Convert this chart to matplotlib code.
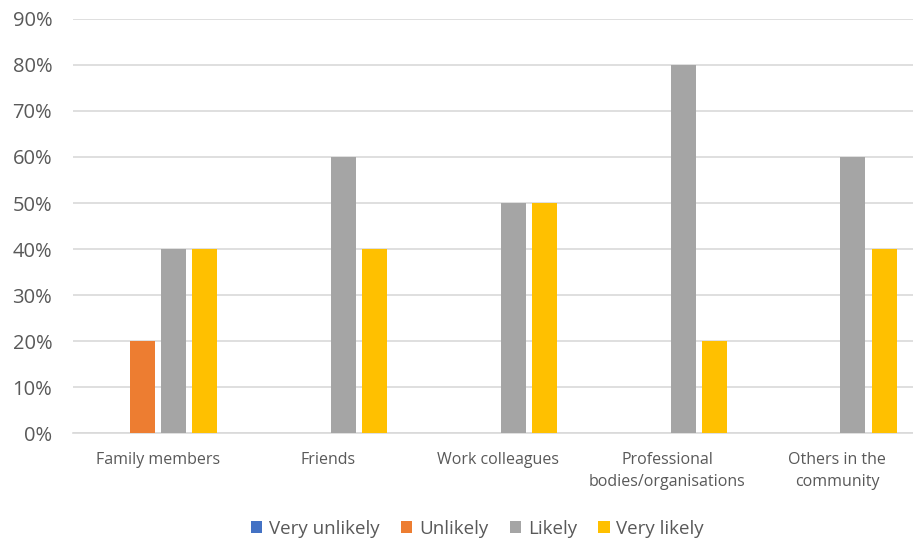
import numpy as np
import matplotlib.pyplot as plt
from matplotlib.ticker import PercentFormatter

plt.rcParams['font.family'] = ['Open Sans', 'DejaVu Sans']

categories = ["Family members", "Friends", "Work colleagues",
              "Professional\nbodies/organisations", "Others in the\ncommunity"]
series = ["Very unlikely", "Unlikely", "Likely", "Very likely"]
very_unlikely = [0.0, 0.0, 0.0, 0.0, 0.0]
unlikely = [0.20, 0.0, 0.0, 0.0, 0.0]
likely = [0.40, 0.60, 0.50, 0.80, 0.60]
very_likely = [0.40, 0.40, 0.50, 0.20, 0.40]
colors = ["#4472C4", "#ED7D31", "#A5A5A5", "#FFC000"]

fig = plt.figure(figsize=(9.13, 5.41), dpi=100)
# plot area runs a little past the right edge of the canvas
ax = fig.add_axes([0.080, 0.1996, 0.930, 0.7653])

x = np.arange(len(categories))
step = 0.184
width = 0.147
for j, (name, vals) in enumerate(zip(series, [very_unlikely, unlikely, likely, very_likely])):
    ax.bar(x + (j - 1.5) * step, vals, width, color=colors[j], label=name, zorder=3)

ax.set_xlim(-0.5, len(categories) - 0.5)
ax.set_ylim(0, 0.9)
ax.set_yticks(np.arange(0, 0.91, 0.1))
ax.yaxis.set_major_formatter(PercentFormatter(1.0, decimals=0))
ax.grid(axis="y", color="#D9D9D9", lw=1.2, zorder=0)
ax.set_xticks(x)
ax.set_xticklabels(categories, fontsize=11.5, color="#595959", linespacing=1.5)
ax.tick_params(axis="y", labelsize=14.5, labelcolor="#595959", length=0, pad=15)
ax.tick_params(axis="x", length=0, pad=14)
for s in ["top", "right", "left"]:
    ax.spines[s].set_visible(False)
ax.spines["bottom"].set_color("#D9D9D9")
ax.spines["bottom"].set_linewidth(1.2)

fig.legend(loc="lower center", bbox_to_anchor=(0.523, -0.025), ncol=4, frameon=False,
           fontsize=13.5, labelcolor="#595959", handlelength=0.6, handleheight=0.6,
           handletextpad=0.35, columnspacing=1.15)

fig.savefig("out.png", dpi=100)
